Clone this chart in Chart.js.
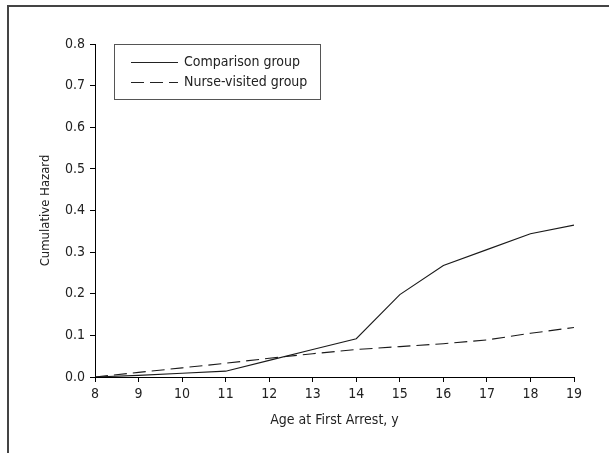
<!DOCTYPE html>
<html>
<head>
<meta charset="utf-8">
<script src="https://cdn.jsdelivr.net/npm/chart.js@4/dist/chart.umd.min.js"></script>
<style>
  html, body { margin: 0; padding: 0; background: #fff; }
  #wrap { width: 609px; height: 453px; }
</style>
</head>
<body>
<div id="wrap"><canvas id="hazardChart" width="609" height="453"></canvas></div>
<script>
// --- Data ---
const ages = [8, 9, 10, 11, 12, 13, 14, 15, 16, 17, 18, 19];
const comparisonGroup = [0, 0.004, 0.009, 0.014, 0.040, 0.066, 0.092, 0.198, 0.268, 0.306, 0.344, 0.365];
const nurseVisitedGroup = [0, 0.011, 0.022, 0.033, 0.045, 0.056, 0.066, 0.073, 0.080, 0.089, 0.105, 0.119];
const seriesLabels = ['Comparison group', 'Nurse-visited group'];

const FONT = '"Liberation Sans Narrow", "DejaVu Sans Condensed", "Roboto", sans-serif';

// --- Frame around the figure (left + top edges only are visible) ---
const framePlugin = {
  id: 'frame',
  beforeDraw(chart) {
    const c = chart.ctx;
    c.save();
    c.strokeStyle = '#444';
    c.lineWidth = 2;
    c.beginPath();
    c.moveTo(8, chart.height);
    c.lineTo(8, 6);
    c.lineTo(chart.width, 6);
    c.stroke();
    c.restore();
  }
};

// --- Boxed legend in the upper left of the plot ---
const boxLegend = {
  id: 'boxLegend',
  afterDraw(chart) {
    const c = chart.ctx;
    const x = 114, y = 44, w = 206, h = 55;
    c.save();
    c.strokeStyle = '#555';
    c.lineWidth = 1;
    c.strokeRect(x + 0.5, y + 0.5, w, h);
    c.font = '14px ' + FONT;
    c.fillStyle = '#222';
    c.textBaseline = 'middle';
    chart.data.datasets.forEach((ds, i) => {
      const ly = 62 + i * 20;
      c.strokeStyle = '#222';
      c.setLineDash(ds.borderDash || []);
      c.beginPath();
      c.moveTo(131, ly + 0.5);
      c.lineTo(178, ly + 0.5);
      c.stroke();
      c.setLineDash([]);
      c.fillText(ds.label, 184, ly);
    });
    c.restore();
  }
};

const ctx = document.getElementById('hazardChart');

new Chart(ctx, {
  type: 'line',
  data: {
    datasets: [
      {
        label: seriesLabels[0],
        data: ages.map((a, i) => ({ x: a, y: comparisonGroup[i] })),
        borderColor: '#1a1a1a',
        borderWidth: 1.1,
        pointRadius: 0,
        tension: 0,
        fill: false
      },
      {
        label: seriesLabels[1],
        data: ages.map((a, i) => ({ x: a, y: nurseVisitedGroup[i] })),
        borderColor: '#1a1a1a',
        borderWidth: 1.1,
        borderDash: [13, 6],
        pointRadius: 0,
        tension: 0,
        fill: false
      }
    ]
  },
  options: {
    responsive: false,
    animation: false,
    layout: { padding: { top: 44, right: 35, left: 0, bottom: 0 } },
    plugins: {
      legend: { display: false },
      tooltip: { enabled: false }
    },
    scales: {
      x: {
        type: 'linear',
        min: 8,
        max: 19,
        afterFit: s => { s.height = 76; },
        border: { color: '#000', width: 1 },
        grid: { display: true, drawOnChartArea: false, drawTicks: true, tickLength: 5, color: '#000' },
        ticks: { stepSize: 1, color: '#222', font: { family: FONT, size: 14 }, padding: 4 },
        title: {
          display: true,
          text: 'Age at First Arrest, y',
          color: '#222',
          font: { family: FONT, size: 14 },
          padding: { top: 0, bottom: 24 }
        }
      },
      y: {
        min: 0,
        max: 0.8,
        afterFit: s => { s.width = 95; },
        border: { color: '#000', width: 1 },
        grid: { display: true, drawOnChartArea: false, drawTicks: true, tickLength: 5, color: '#000' },
        ticks: {
          stepSize: 0.1,
          color: '#222',
          font: { family: FONT, size: 14 },
          padding: 5,
          callback: v => v.toFixed(1)
        },
        title: {
          display: true,
          text: 'Cumulative Hazard',
          color: '#222',
          font: { family: FONT, size: 13 },
          padding: { top: 38, bottom: 0 }
        }
      }
    }
  },
  plugins: [framePlugin, boxLegend]
});
</script>
</body>
</html>
